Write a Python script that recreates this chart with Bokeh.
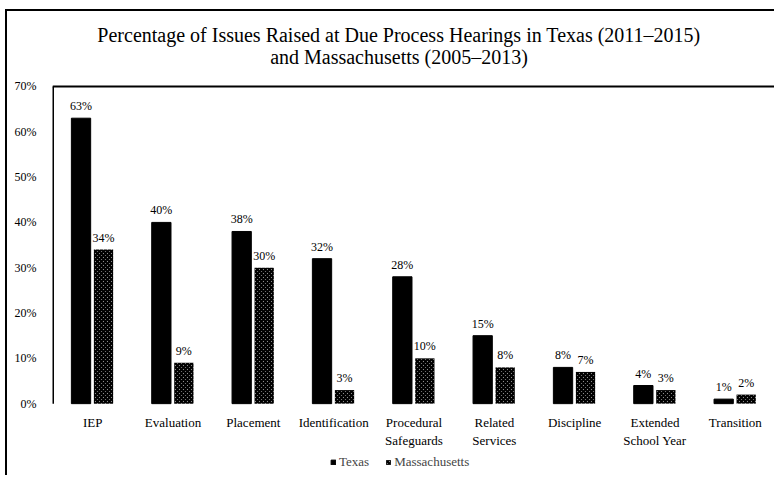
from bokeh.plotting import figure
from bokeh.models import (ColumnDataSource, Range1d, FixedTicker, PrintfTickFormatter,
                          Legend, LegendItem)
from bokeh.transform import dodge
from bokeh.core.properties import value
from bokeh.embed import file_html
from bokeh.resources import INLINE

categories = ["IEP", "Evaluation", "Placement", "Identification", "Procedural\nSafeguards",
              "Related\nServices", "Discipline", "Extended\nSchool Year", "Transition"]
texas = [63, 40, 38, 32, 28, 15, 8, 4, 1]
massachusetts = [34, 9, 30, 3, 10, 8, 7, 3, 2]
y_ticks = [0, 10, 20, 30, 40, 50, 60, 70]
title_lines = ["Percentage of Issues Raised at Due Process Hearings in Texas (2011\u20132015)",
               "and Massachusetts (2005\u20132013)"]

FONT = "Liberation Serif"
Y_MAX = 70
# extra room above the axis box for the title and below it for labels and legend
Y_TOP = 86.55
Y_MIN = -16.3

src = ColumnDataSource(dict(
    cat=categories,
    tx=texas, ma=massachusetts,
    tx_lbl=[f"{v}%" for v in texas],
    ma_lbl=[f"{v}%" for v in massachusetts],
    zero=[0] * len(categories),
))
n = len(categories)

p = figure(x_range=categories, y_range=Range1d(Y_MIN, Y_TOP), width=769, height=466,
           output_backend="svg", toolbar_location=None,
           min_border_left=45, min_border_right=1, min_border_top=0, min_border_bottom=0)
p.styles = {"border-left": "2px solid black", "border-top": "2px solid black",
            "margin-left": "5px", "margin-top": "9px"}

p.outline_line_color = None
p.grid.visible = False
p.xaxis.visible = False

# title (two centred lines)
p.text(x=[n / 2, n / 2], y=[Y_MAX, Y_MAX], text=title_lines, x_offset=-15,
       y_offset=[-51, -29], text_align="center", text_baseline="middle",
       text_font=value(FONT), text_font_size="20px", text_color="black")

r_tx = p.vbar(x=dodge("cat", -0.145, range=p.x_range), top="tx", width=0.24, source=src,
              fill_color="black", line_color="black")
r_ma = p.vbar(x=dodge("cat", 0.135, range=p.x_range), top="ma", width=0.24, source=src,
              fill_color="white", line_color=None, hatch_pattern="diagonal_cross",
              hatch_color="black", hatch_scale=4, hatch_weight=2.5)

p.text(x=dodge("cat", -0.145, range=p.x_range), y="tx", text="tx_lbl", source=src,
       text_align="center", text_baseline="bottom", y_offset=-5,
       text_font=value(FONT), text_font_size="12px", text_color="black")
p.text(x=dodge("cat", 0.135, range=p.x_range), y="ma", text="ma_lbl", source=src,
       text_align="center", text_baseline="bottom", y_offset=-5,
       text_font=value(FONT), text_font_size="12px", text_color="black")

# category labels under the bars
p.text(x="cat", y="zero", text="cat", source=src, text_align="center", text_baseline="top",
       y_offset=11, text_font=value(FONT), text_font_size="13px", text_color="black",
       text_line_height=1.2)

# plot box: left, right and top lines
p.segment(x0=[0, n], y0=[0, 0], x1=[0, n], y1=[Y_MAX, Y_MAX], line_color="black", line_width=3)
p.segment(x0=[0], y0=[Y_MAX], x1=[n], y1=[Y_MAX], line_color="black", line_width=2)

p.yaxis.ticker = FixedTicker(ticks=y_ticks)
p.yaxis.formatter = PrintfTickFormatter(format="%d%%")
p.yaxis.axis_line_color = None
p.yaxis.major_tick_line_color = None
p.yaxis.minor_tick_line_color = None
p.yaxis.major_label_standoff = 10
p.yaxis.major_label_text_font = FONT
p.yaxis.major_label_text_font_size = "12px"
p.yaxis.major_label_text_color = "black"

legend = Legend(items=[LegendItem(label="Texas", renderers=[r_tx]),
                       LegendItem(label="Massachusetts", renderers=[r_ma])],
                orientation="horizontal", location=(278, 7),
                glyph_width=6, glyph_height=6, label_text_font=FONT,
                label_text_font_size="13px", label_standoff=3, spacing=16,
                border_line_color=None, background_fill_alpha=0, padding=0, margin=0,
                label_height=12)
p.add_layout(legend, "center")

open("out.html", "w").write(file_html(p, INLINE))
